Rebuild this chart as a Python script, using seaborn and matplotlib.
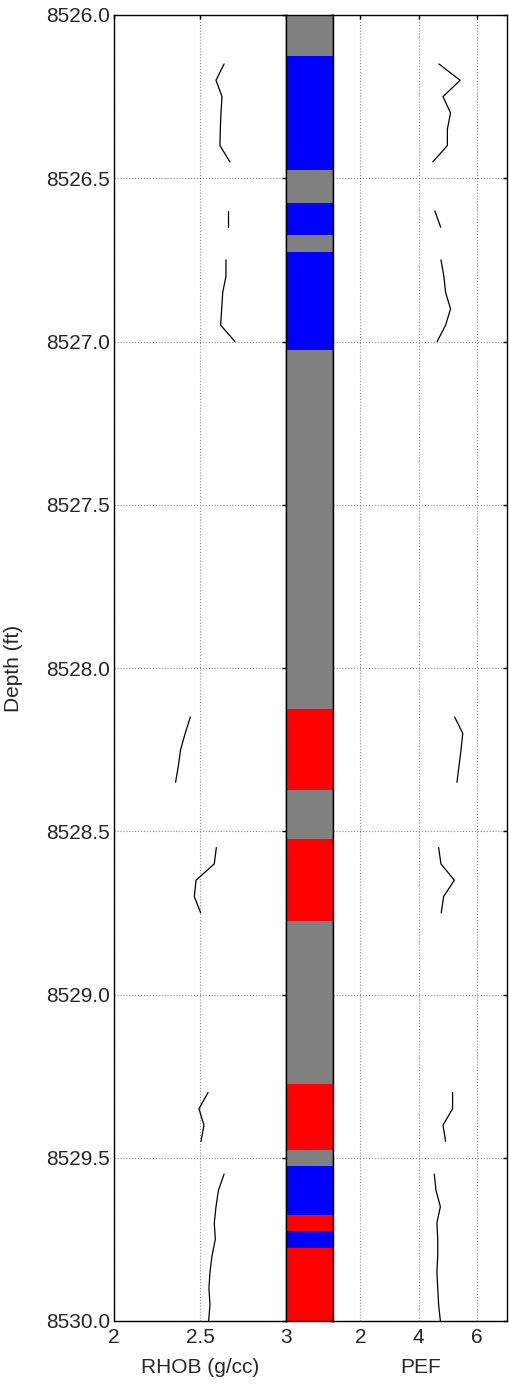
import numpy as np
import pandas as pd
import matplotlib
matplotlib.use("Agg")
import matplotlib.pyplot as plt
from matplotlib.colors import ListedColormap
import seaborn as sns

sns.set_style("white")
plt.rcParams['font.family'] = ['Liberation Sans', 'DejaVu Sans']
plt.rcParams['font.size'] = 15

# ---------------- data ----------------
depth_start = 8526.0
depth_step = 0.05
n_samples = 81
depth = [round(depth_start + depth_step * i, 2) for i in range(n_samples)]

# facies code per sample: 0 = gray (undefined), 1 = blue, 2 = red
facies = ([0] * 3 + [1] * 7 + [0] * 2 + [1] * 2 + [0] * 1 + [1] * 6 +
          [0] * 22 + [2] * 5 + [0] * 3 + [2] * 5 + [0] * 10 + [2] * 4 +
          [0] * 1 + [1] * 3 + [2] * 1 + [1] * 1 + [2] * 5)
facies_colors = ['#808080', '#0000ff', '#ff0000']

nan = np.nan
rhob = ([nan] * 3 +
        [2.640, 2.593, 2.628, 2.622, 2.618, 2.616, 2.674] +
        [nan] * 2 + [2.661, 2.661] + [nan] +
        [2.651, 2.651, 2.632, 2.626, 2.620, 2.703] +
        [nan] * 22 +
        [2.444, 2.414, 2.387, 2.374, 2.358] +
        [nan] * 3 +
        [2.595, 2.583, 2.477, 2.467, 2.504] +
        [nan] * 10 +
        [2.547, 2.494, 2.523, 2.506] +
        [nan] +
        [2.640, 2.607, 2.593, 2.583, 2.589, 2.570, 2.558, 2.552, 2.558, 2.550])

pef = ([nan] * 3 +
       [4.70, 5.43, 4.84, 5.10, 4.99, 4.99, 4.49] +
       [nan] * 2 + [4.56, 4.76] + [nan] +
       [4.77, 4.87, 4.93, 5.10, 4.93, 4.64] +
       [nan] * 22 +
       [5.24, 5.52, 5.46, 5.39, 5.32] +
       [nan] * 3 +
       [4.69, 4.77, 5.23, 4.86, 4.78] +
       [nan] * 10 +
       [5.17, 5.17, 4.84, 4.93] +
       [nan] +
       [4.54, 4.60, 4.75, 4.63, 4.66, 4.66, 4.63, 4.66, 4.69, 4.75])

rhob_ticks = [2, 2.5, 3]
rhob_ticklabels = ['2', '2.5', '3']
pef_ticks = [2, 4, 6]
depth_ticks = [8526.0 + 0.5 * k for k in range(9)]

# ---------------- frame ----------------
df = pd.DataFrame({'depth': depth, 'RHOB': rhob, 'PEF': pef, 'facies': facies})
df['seg'] = df['RHOB'].isna().cumsum()
logs = df.dropna()

W, H = 509, 1386
fig = plt.figure(figsize=(W / 100, H / 100), dpi=100)
top_px, bot_px = 15, 1321
ax_b = 1 - bot_px / H
ax_h = (bot_px - top_px) / H
ax1 = fig.add_axes([114 / W, ax_b, 172 / W, ax_h])
ax2 = fig.add_axes([286 / W, ax_b, 47 / W, ax_h])
ax3 = fig.add_axes([333 / W, ax_b, 174.3 / W, ax_h])

grid_kw = dict(color='#8a8a8a', linestyle=':', linewidth=0.8)

# RHOB track
sns.lineplot(data=logs, x='RHOB', y='depth', units='seg', estimator=None,
             sort=False, color='black', linewidth=0.9, ax=ax1, legend=False)
ax1.set_xlim(2, 3)
ax1.set_ylim(8530, 8526)
ax1.set_xticks(rhob_ticks)
ax1.set_xticklabels(rhob_ticklabels)
ax1.set_yticks(depth_ticks)
ax1.set_yticklabels([f'{d:.1f}' for d in depth_ticks])
ax1.set_xlabel('RHOB (g/cc)', labelpad=8)
ax1.set_ylabel('Depth (ft)')
ax1.yaxis.set_label_coords(-0.53, 0.5)
ax1.grid(True, **grid_kw)

# PEF track
sns.lineplot(data=logs, x='PEF', y='depth', units='seg', estimator=None,
             sort=False, color='black', linewidth=0.9, ax=ax3, legend=False)
ax3.set_xlim(1.06, 7.05)
ax3.set_ylim(8530, 8526)
ax3.set_xticks(pef_ticks)
ax3.set_yticks(depth_ticks)
ax3.set_yticklabels([])
ax3.set_xlabel('PEF', labelpad=8)
ax3.set_ylabel('')
ax3.grid(True, **grid_kw)

# facies strip
sns.heatmap(np.array(facies).reshape(-1, 1), ax=ax2, cmap=ListedColormap(facies_colors),
            vmin=-0.5, vmax=2.5, cbar=False, xticklabels=False, yticklabels=False)
ax2.set_ylim(n_samples - 0.5, 0.5)
ax2.set_xlim(0, 1)
ax2.set_yticks([0.5 + 10 * k for k in range(9)])
ax2.set_yticklabels([])
ax2.set_xticks([])
ax2.set_xlabel('')
ax2.set_ylabel('')

for ax in (ax1, ax2, ax3):
    for s in ax.spines.values():
        s.set_visible(True)
        s.set_color('black')
        s.set_linewidth(1.0)
    ax.tick_params(direction='in', length=3, width=1, top=True, right=True,
                   color='black', labelsize=15)
    ax.tick_params(axis='y', pad=3)
    ax.tick_params(axis='x', pad=5)
    ax.set_axisbelow(True)

fig.savefig('out.png', dpi=100)
